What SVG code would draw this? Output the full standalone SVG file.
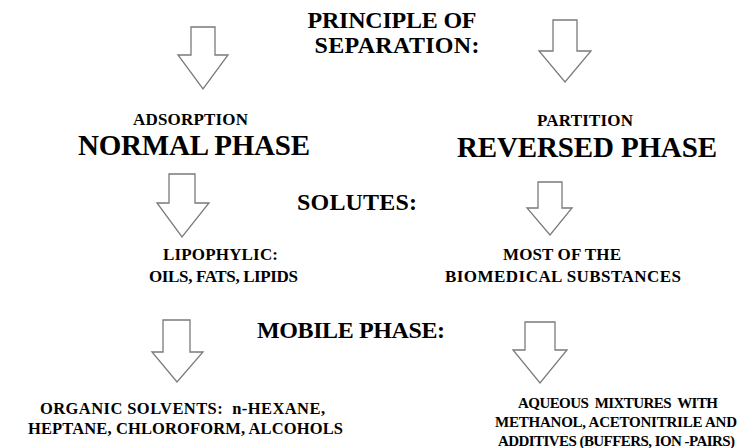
<svg xmlns="http://www.w3.org/2000/svg" width="738" height="448" viewBox="0 0 738 448">
<style>
text{font-family:"Liberation Serif","Times New Roman",serif;font-weight:700;fill:#000;text-anchor:middle}
.h{font-size:24px}
.big{font-size:29px}
.s{font-size:17px}
.b{font-size:16.5px}
.r{font-size:15px}
.arrow{fill:#fff;stroke:#7a7a7a;stroke-width:1.3;stroke-linejoin:miter}
</style>
<rect width="738" height="448" fill="#fff"/>
<g id="connectors">
<polygon class="arrow" points="191,27 215,27 215,55 228,55 203,89 178,55 191,55"/>
<polygon class="arrow" points="553,20 577,20 577,51 591,51 565,82 539,51 553,51"/>
<polygon class="arrow" points="169,174 195,174 195,203 209,203 182,237 157,203 169,203"/>
<polygon class="arrow" points="538,182 562,182 562,208 572,208 550,235 527,208 538,208"/>
<polygon class="arrow" points="163,320 190,320 190,352 203,352 177,382 152,352 163,352"/>
<polygon class="arrow" points="525,322 555,322 555,350 567,350 540,383 513,350 525,350"/>
</g>
<g id="principle">
<text class="h" x="392" y="28" textLength="169">PRINCIPLE OF</text>
<text class="h" x="397" y="53" textLength="165">SEPARATION:</text>
</g>
<g id="normal-phase">
<text class="s" x="190.5" y="125" textLength="115">ADSORPTION</text>
<text class="big" x="194" y="155" textLength="232">NORMAL PHASE</text>
</g>
<g id="reversed-phase">
<text class="s" x="585" y="126" textLength="96">PARTITION</text>
<text class="big" x="587" y="157" textLength="260">REVERSED PHASE</text>
</g>
<g id="solutes">
<text class="h" x="357" y="210" textLength="120">SOLUTES:</text>
</g>
<g id="normal-solutes">
<text class="s" x="220.5" y="260" textLength="115">LIPOPHYLIC:</text>
<text class="s" x="223.5" y="282" textLength="149">OILS, FATS, LIPIDS</text>
</g>
<g id="reversed-solutes">
<text class="s" x="562" y="260" textLength="118">MOST OF THE</text>
<text class="s" x="563" y="282" textLength="236">BIOMEDICAL SUBSTANCES</text>
</g>
<g id="mobile-phase">
<text class="h" x="351" y="338" textLength="188">MOBILE PHASE:</text>
</g>
<g id="normal-mobile">
<text class="b" x="182.5" y="414" textLength="285" xml:space="preserve">ORGANIC SOLVENTS:  n-HEXANE,</text>
<text class="b" x="185.5" y="434" textLength="315">HEPTANE, CHLOROFORM, ALCOHOLS</text>
</g>
<g id="reversed-mobile">
<text class="r" x="618" y="408" textLength="200" xml:space="preserve">AQUEOUS  MIXTURES  WITH</text>
<text class="r" x="616" y="427" textLength="242">METHANOL, ACETONITRILE AND</text>
<text class="r" x="616.5" y="446" textLength="237">ADDITIVES (BUFFERS, ION -PAIRS)</text>
</g>
</svg>
